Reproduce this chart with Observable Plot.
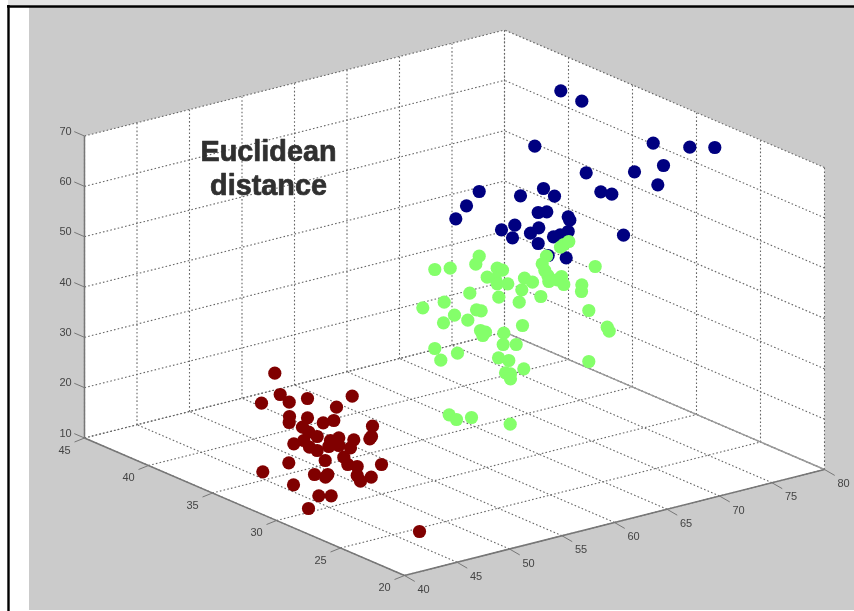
<!DOCTYPE html>
<html>
<head>
<meta charset="utf-8">
<script src="https://cdn.jsdelivr.net/npm/d3@7"></script>
<script src="https://cdn.jsdelivr.net/npm/@observablehq/plot@0.6"></script>
<style>
html,body{margin:0;padding:0;background:#fff;overflow:hidden}
svg{display:block;filter:blur(0.7px)}
</style>
</head>
<body>
<div id="chart"></div>
<script>
const xTicks=[40,45,50,55,60,65,70,75,80];
const yTicks=[20,25,30,35,40,45];
const zTicks=[10,20,30,40,50,60,70];
const titleLines=["Euclidean","distance"];
// Marker places, in the plane of the picture
const blueU=[560.3,581.3,534.3,652.7,689.3,714.3,663,634,657.3,585.7,600.3,611.3,478.7,466,455.3,520,543,554,537.7,546.3,567.7,569.3,514.3,501,512,538.3,530,537.7,553,559.7,567.7,623,547.7,565.7];
const blueV=[90.3,100.7,145.7,142.7,146.7,147,165,171.3,184.3,172.3,191.3,193.7,191,205.3,218.3,195.3,188,195.7,212,211.3,216.3,219.7,224.7,229.3,237.3,227.3,232.7,243,236.3,234.3,231,234.7,255,257.3];
const greenU=[434.3,449.7,478.7,475.3,496.7,502,486.7,495,496.7,507.3,524,532,521.3,540.3,518.7,498.3,469.3,443.7,422.3,454,443,467.3,476,480.7,480,485,482.3,503.3,502.7,515.7,522,434.3,440.3,457,498,508.3,523.3,505,510,510,588.3,606.7,608.7,588.3,581.3,581,594.7,546,541.7,544.3,547.3,548.3,556.7,561,563.3,560,563.3,568.3,448.7,456,471,509.7];
const greenV=[269,267.7,255.7,263.7,267.7,269.7,276.7,278.3,283.3,283.3,277.7,281.7,289.3,296,301.7,296.7,292.7,301.7,307.3,314.7,322.3,319.7,309.3,310.3,330,331.7,335,332.7,344,344,325,348,359.7,352.7,357.3,360,368.3,372.3,373.3,378.3,361,326.7,330.7,310,284.3,291,266,255.7,263.3,270,275,281,279.3,276,284,246.7,244,241,414.3,419,417,423.7];
const redU=[274.3,279.7,288.7,261,307,351.7,336,289,288.7,307,333.3,322.7,372,369.3,371,302,308.3,316.7,293.3,303.3,309,316.7,338.3,330,328.3,338.3,353.3,350,324.7,343.3,347.3,356.7,381,288.3,262.3,314,325,327.3,356.7,360,370.7,293,318.3,330.7,308,419];
const redV=[372.7,394,401.7,402.7,398,395.7,406.7,416,422,417.3,420,422.3,425.7,438.3,436,426.7,431.7,436,443.3,440,446.7,450,437.3,440,446,445,439.3,447.3,460,456.7,464,466,464,462.3,471.3,474,476.7,474,475,480.7,476.7,484.3,495.3,495.3,508,531];

// Orthographic view of the 3D box, from axis values to the picture plane
const px=(x,y)=>404+(x-40)*10.5-(y-20)*12.8;
const py=(x,y,z)=>575-(x-40)*2.65-(y-20)*5.5-(z-10)*5.033;
const seg=(a,b)=>({x1:px(a[0],a[1]),y1:py(...a),x2:px(b[0],b[1]),y2:py(...b)});
const pt=(a,label)=>({x:px(a[0],a[1]),y:py(...a),label:String(label)});

const grid=[
  ...xTicks.map(x=>seg([x,45,10],[x,45,70])),
  ...zTicks.map(z=>seg([40,45,z],[80,45,z])),
  ...yTicks.map(y=>seg([80,y,10],[80,y,70])),
  ...zTicks.map(z=>seg([80,20,z],[80,45,z])),
  ...xTicks.map(x=>seg([x,20,10],[x,45,10])),
  ...yTicks.map(y=>seg([40,y,10],[80,y,10]))
];
const edges=[
  seg([40,45,10],[40,45,70]),
  seg([40,20,10],[40,45,10]),
  seg([40,20,10],[80,20,10])
];
const backEdge=[seg([80,20,10],[80,45,10])];
const tickMarks=[
  ...zTicks.map(z=>seg([40,45,z],[40,45.8,z])),
  ...yTicks.map(y=>seg([40,y,10],[39.05,y,9.7])),
  ...xTicks.map(x=>seg([x,20,10],[x,19.2,9.7]))
];
const faces=[
  [[40,45,10],[80,45,10],[80,45,70],[40,45,70]],
  [[80,20,10],[80,45,10],[80,45,70],[80,20,70]],
  [[40,20,10],[80,20,10],[80,45,10],[40,45,10]]
].flatMap((f,i)=>f.map(p=>({...pt(p,""),face:i})));

const dots=(u,v,fill)=>Plot.dot(u.map((d,i)=>({u:d,v:v[i]})),{x:"u",y:"v",r:6.6,fill,stroke:"none"});
const textOpts={x:"x",y:"y",text:"label",fontFamily:"Liberation Sans, Arial, sans-serif",fontSize:11,fill:"#444"};

const chart=Plot.plot({
  width:854,height:611,
  marginTop:0,marginRight:0,marginBottom:0,marginLeft:0,
  x:{domain:[0,854],range:[0,854],axis:null},
  y:{domain:[0,611],range:[0,611],axis:null},
  style:{background:"#fff"},
  marks:[
    Plot.rect([{a:29,b:854,c:7,d:610}],{x1:"a",x2:"b",y1:"c",y2:"d",fill:"#cbcbcb"}),
    Plot.rect([{a:8,b:854,c:0,d:5}],{x1:"a",x2:"b",y1:"c",y2:"d",fill:"#e4e4e4"}),
    Plot.ruleY([6],{x1:7,x2:854,stroke:"#000",strokeWidth:2.4}),
    Plot.ruleX([8],{y1:5,y2:611,stroke:"#000",strokeWidth:2.4}),
    Plot.line(faces,{x:"x",y:"y",z:"face",fill:"#fff",stroke:"none",curve:"linear-closed"}),
    Plot.link(grid,{x1:"x1",y1:"y1",x2:"x2",y2:"y2",stroke:"#666",strokeWidth:1.1,strokeDasharray:"1.6,2.2"}),
    Plot.link(backEdge,{x1:"x1",y1:"y1",x2:"x2",y2:"y2",stroke:"#999",strokeWidth:1.5}),
    Plot.link(edges,{x1:"x1",y1:"y1",x2:"x2",y2:"y2",stroke:"#777",strokeWidth:1.5}),
    Plot.link(tickMarks,{x1:"x1",y1:"y1",x2:"x2",y2:"y2",stroke:"#777",strokeWidth:1}),
    Plot.text(zTicks.map(z=>pt([40,45,z],z)),{...textOpts,dx:-19,dy:-5}),
    Plot.text(yTicks.map(y=>pt([40,y,10],y)),{...textOpts,dx:-20,dy:12}),
    Plot.text(xTicks.map(x=>pt([x,20,10],x)),{...textOpts,dx:19,dy:14}),
    dots(blueU,blueV,"#000080"),
    dots(greenU,greenV,"#84ff6a"),
    dots(redU,redV,"#800000"),
    Plot.text(titleLines.map((t,i)=>({t,u:268,v:151+i*34})),{x:"u",y:"v",text:"t",fontFamily:"Liberation Sans, Arial, sans-serif",fontWeight:"bold",fontSize:28.8,fill:"#303030",stroke:"#303030",strokeWidth:0.7})
  ]
});
document.getElementById("chart").appendChild(chart);
</script>
</body>
</html>
